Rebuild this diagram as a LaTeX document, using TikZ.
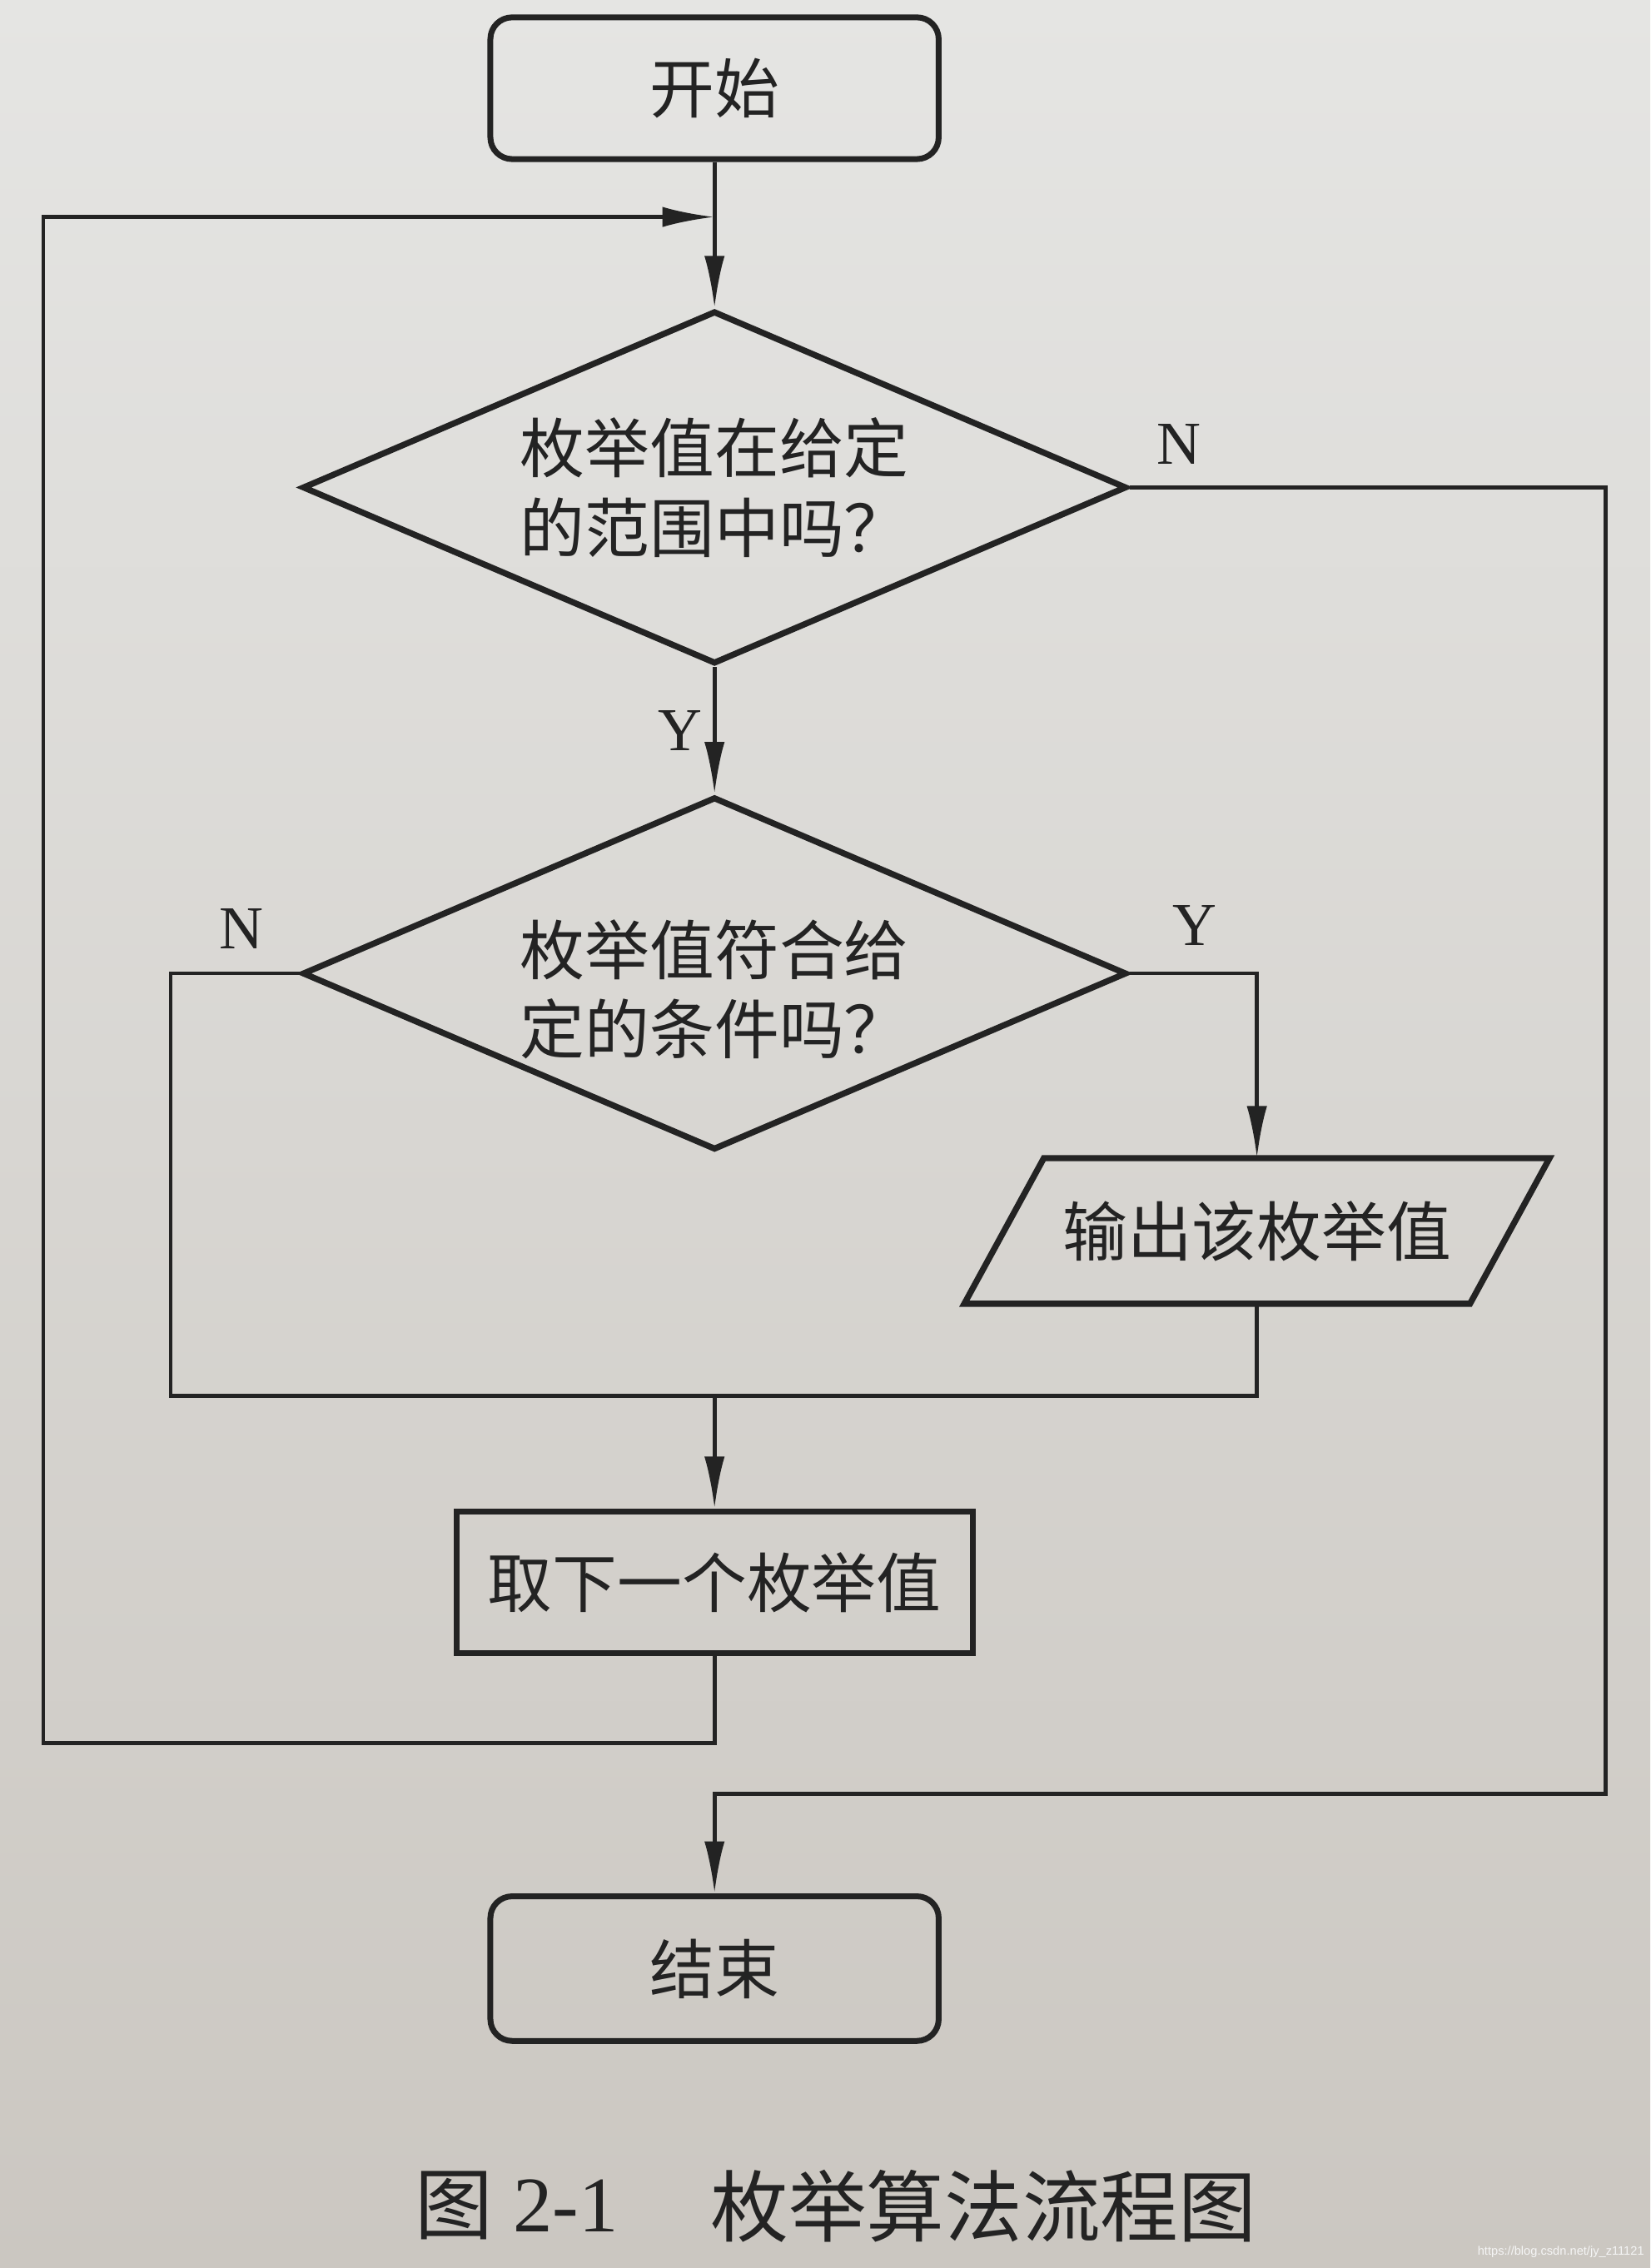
\documentclass[tikz,border=0pt]{standalone}
\usepackage{fontspec}
\setmainfont{Liberation Serif}
\newfontfamily\cjk{Noto Sans CJK SC}
\newfontfamily\wmfont{Liberation Sans}
\usetikzlibrary{shapes.geometric,arrows.meta}
\definecolor{ink}{RGB}{35,35,35}
\definecolor{pagetop}{RGB}{229,229,227}
\definecolor{pagebot}{RGB}{203,199,193}
\begin{document}
\begin{tikzpicture}[x=0.02cm,y=-0.02cm,
  txt/.style={font=\cjk\fontsize{25.5}{31.3}\selectfont, text=ink},
  box/.style={txt, draw=ink, line width=2.3pt, minimum width=7.14cm, minimum height=1.96cm, inner sep=0pt},
  term/.style={box, rounded corners=0.3cm, minimum width=6.2cm},
  dec/.style={txt, draw=ink, line width=2.4pt, shape=diamond, aspect=2.336, minimum width=11.4cm, minimum height=4.88cm, inner sep=0pt, align=left},
  iotext/.style={txt, minimum width=6.98cm, minimum height=2cm, inner sep=0pt},
  ioline/.style={draw=ink, line width=2.4pt, line join=miter},
  conn/.style={draw=ink, line width=1.5pt},
  arr/.style={conn, -{Latex[length=0.72cm,width=0.28cm]}},
  lab/.style={font=\fontsize{24}{24}\selectfont, text=ink, inner sep=0pt},
  captext/.style={font=\cjk\fontsize{30.7}{31}\selectfont, text=ink, inner sep=0pt}
]
\shade[top color=pagetop, bottom color=pagebot] (0,0) rectangle (1141,1568);
\useasboundingbox (0,0) rectangle (1141,1568);

% nodes
\node[term] (start) at (494,61) {开始};
\node[dec] (d1) at (494,337) {枚举值在给定\\的范围中吗？};
\node[dec] (d2) at (494,673) {\rule{0pt}{1.2cm}枚举值符合给\\定的条件吗？};
\node[iotext] (out) at (869,851) {输出该枚举值};
\draw[ioline] ([xshift=0.55cm]out.north west) -- ([xshift=0.55cm]out.north east)
  -- ([xshift=-0.55cm]out.south east) -- ([xshift=-0.55cm]out.south west) -- cycle;
\node[box] (proc) at (494,1094) {取下一个枚举值};
\node[term, minimum height=2cm] (end) at (494,1361) {结束};

% helper coordinates
\coordinate (loopin) at (494,150);
\coordinate (ltop) at (30,150);
\coordinate (lbot) at (30,1205);
\coordinate (pbot) at (494,1205);
\coordinate (rtop) at (1110,337);
\coordinate (rbot) at (1110,1240);
\coordinate (ebot) at (494,1240);
\coordinate (nl) at (118,673);
\coordinate (nlb) at (118,965);
\coordinate (join) at (494,965);

% connectors
\draw[arr] (start.south) -- (d1.north);
\draw[arr] (proc.south) -- (pbot) -- (lbot) -- (ltop) -- (loopin);
\draw[arr] (d1.south) -- (d2.north);
\draw[arr] (d1.east) -- (rtop) -- (rbot) -- (ebot) -- (end.north);
\draw[conn] (d2.west) -- (nl) -- (nlb) -- (join);
\draw[arr] (d2.east) -- (d2.east -| out.north) -- (out.north);
\draw[conn] (out.south) -- (out.south |- join) -- (join);
\draw[arr] (join) -- (proc.north);

% labels
\node[lab] (ly1) at (470,505) {Y};
\node[lab] (ln1) at (815,307) {N};
\node[lab] (ln2) at (167,642) {N};
\node[lab] (ly2) at (826,640) {Y};

% caption
\node[captext] (cap1) at (314,1525) {图};
\node[font=\fontsize{31}{31}\selectfont, text=ink, inner sep=0pt] (cap2) at (391,1525) {2-1};
\node[captext] (cap3) at (680,1525) {枚举算法流程图};

% watermark
\node[font=\wmfont\fontsize{4.8}{5}\selectfont, text=white!92!gray, anchor=east, inner sep=0pt] (wm) at (1137,1557) {https://blog.csdn.net/jy\_z11121};
\end{tikzpicture}
\end{document}
